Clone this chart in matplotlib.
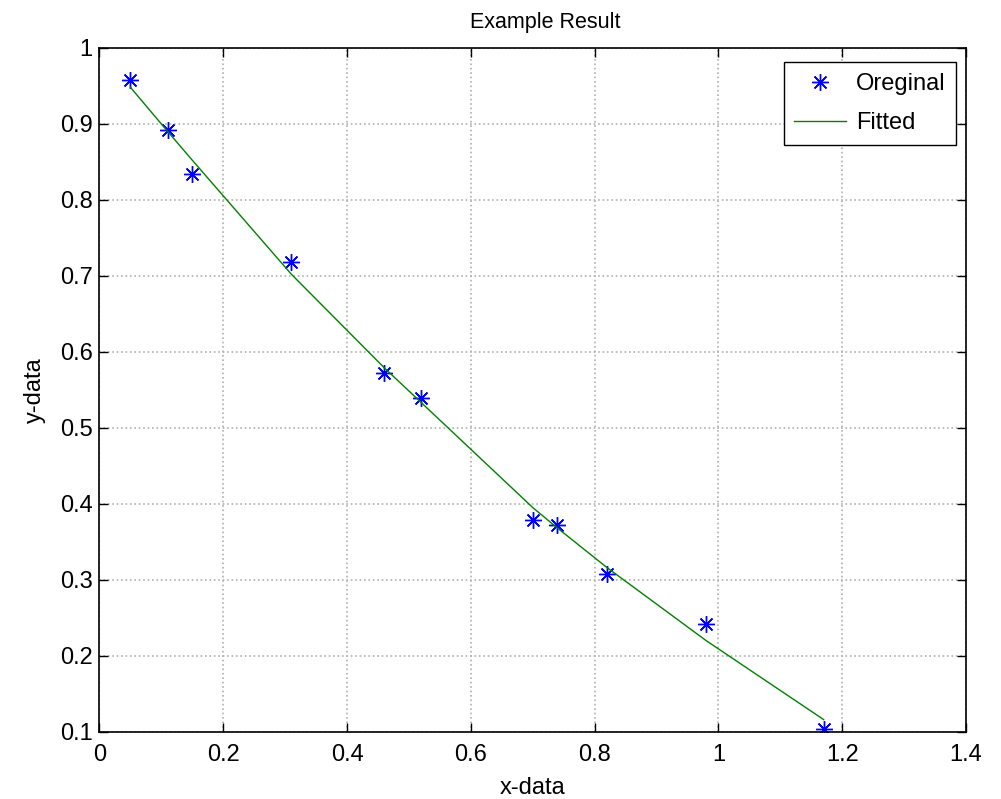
import numpy as np
import matplotlib.pyplot as plt

# measured samples
x_data = [0.05, 0.11, 0.15, 0.31, 0.46, 0.52, 0.70, 0.74, 0.82, 0.98, 1.17]
y_data = [0.957, 0.892, 0.834, 0.718, 0.572, 0.539, 0.379, 0.372, 0.307, 0.242, 0.104]

# model evaluated at the same x positions
y_fit = [0.948, 0.890, 0.852, 0.702, 0.579, 0.533, 0.395, 0.368, 0.316, 0.220, 0.116]

x_ticks = [0, 0.2, 0.4, 0.6, 0.8, 1, 1.2, 1.4]
y_ticks = [0.1, 0.2, 0.3, 0.4, 0.5, 0.6, 0.7, 0.8, 0.9, 1]

plt.rcParams['font.family'] = ['Liberation Sans', 'DejaVu Sans']
plt.rcParams['font.size'] = 17

fig = plt.figure(figsize=(10.01, 7.99), dpi=100)
ax = fig.add_axes([0.0994, 0.0842, 0.8656, 0.856])

ax.plot(x_data, y_data, linestyle='none', marker=(8, 2, 0), markersize=12,
        markeredgewidth=1, color='#0000ff', label='Oreginal')
ax.plot(x_data, y_fit, color='#008000', linewidth=1, label='Fitted')

ax.set_xlim(0, 1.4)
ax.set_ylim(0.1, 1)
ax.set_xticks(x_ticks)
ax.set_xticklabels(['0', '0.2', '0.4', '0.6', '0.8', '1', '1.2', '1.4'])
ax.set_yticks(y_ticks)
ax.set_yticklabels(['0.1', '0.2', '0.3', '0.4', '0.5', '0.6', '0.7', '0.8', '0.9', '1'])

ax.grid(True, color='#b0b0b0', linestyle=':', linewidth=1.2)
ax.tick_params(direction='in', length=6.3, width=1, top=True, right=True)
ax.tick_params(axis='x', pad=9)
ax.tick_params(axis='y', pad=5)
for s in ax.spines.values():
    s.set_linewidth(1.2)

ax.set_title('Example Result', fontsize=15.5, pad=14, x=0.515)
ax.set_xlabel('x-data', labelpad=8)
ax.set_ylabel('y-data', labelpad=10)

leg = ax.legend(loc='upper right', fancybox=False, framealpha=1, edgecolor='black',
                handlelength=2.2, handletextpad=0.4, borderpad=0.45, labelspacing=0.75,
                borderaxespad=0, bbox_to_anchor=(0.9885, 0.979))
leg.get_frame().set_linewidth(1)

plt.savefig('out.png', dpi=100)
